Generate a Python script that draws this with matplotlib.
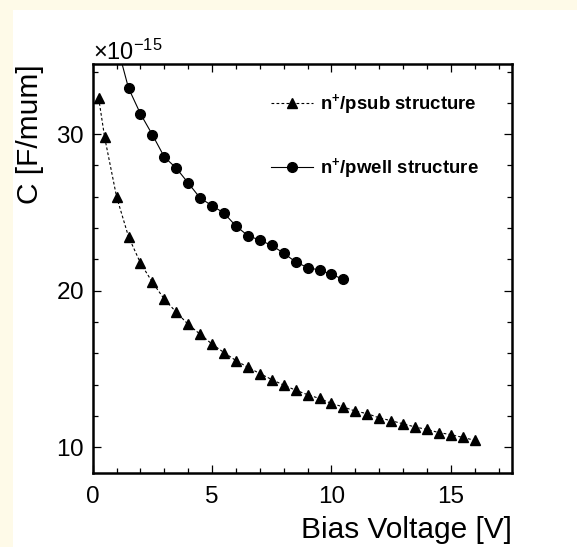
import numpy as np
import matplotlib
matplotlib.use("Agg")
import matplotlib.pyplot as plt
from matplotlib.patches import Rectangle
from matplotlib.ticker import MultipleLocator, ScalarFormatter

plt.rcParams["font.family"] = ["Liberation Sans", "DejaVu Sans"]
plt.rcParams["mathtext.fontset"] = "custom"
plt.rcParams["mathtext.rm"] = "Liberation Sans"
plt.rcParams["mathtext.bf"] = "Liberation Sans:bold"

SCALE = 1e-15

# n+/psub structure (triangles, dashed)
psub_v = [0.25, 0.5, 1, 1.5, 2, 2.5, 3, 3.5, 4, 4.5, 5, 5.5, 6, 6.5, 7, 7.5, 8,
          8.5, 9, 9.5, 10, 10.5, 11, 11.5, 12, 12.5, 13, 13.5, 14, 14.5, 15,
          15.5, 16]
psub_c = [32.3, 29.8, 26.0, 23.45, 21.77, 20.54, 19.46, 18.63, 17.85, 17.22,
          16.59, 16.05, 15.54, 15.11, 14.71, 14.33, 13.97, 13.65, 13.36, 13.12,
          12.80, 12.58, 12.31, 12.15, 11.88, 11.70, 11.50, 11.30, 11.14, 10.94,
          10.81, 10.63, 10.45]

# n+/pwell structure (circles, solid)
pwell_v = [1.5, 2, 2.5, 3, 3.5, 4, 4.5, 5, 5.5, 6, 6.5, 7, 7.5, 8, 8.5, 9,
           9.5, 10, 10.5]
pwell_c = [32.94, 31.30, 29.96, 28.54, 27.83, 26.88, 25.92, 25.43, 24.96,
           24.13, 23.52, 23.23, 22.89, 22.40, 21.84, 21.48, 21.32, 21.05, 20.72]
# fitted curve continues past the first point up to the frame
pwell_fit_v = [1.21] + pwell_v
pwell_fit_c = [34.6] + pwell_c

fig = plt.figure(figsize=(5.77, 5.47), dpi=100)
fig.patch.set_facecolor("#fefae8")
fig.patches.append(Rectangle((13 / 577, 0), 1, 537 / 547, transform=fig.transFigure,
                             facecolor="white", edgecolor="none", zorder=-10))

ax = fig.add_axes([92.7 / 577, 73.7 / 547, 419 / 577, 409 / 547])
ax.set_facecolor("white")

ax.plot(np.array(psub_v), np.array(psub_c) * SCALE, color="black", lw=0.8,
        ls=(0, (2.5, 2)), marker="^", ms=6.8, mec="black", mfc="black",
        label=r"n$^{\mathbf{+}}$/psub structure")
ax.plot(np.array(pwell_fit_v), np.array(pwell_fit_c) * SCALE, color="black",
        lw=0.8, ls="-")
ax.plot(np.array(pwell_v), np.array(pwell_c) * SCALE, color="black", lw=0.8,
        ls="none", marker="o", ms=7, mec="black", mfc="black")
# legend proxy for the solid fit + circles
ax.plot([], [], color="black", lw=0.8, ls="-", marker="o", ms=7,
        label=r"n$^{\mathbf{+}}$/pwell structure")

ax.set_xlim(0, 17.55)
ax.set_ylim(8.34 * SCALE, 34.46 * SCALE)

ax.xaxis.set_major_locator(MultipleLocator(5))
ax.xaxis.set_minor_locator(MultipleLocator(1))
ax.yaxis.set_major_locator(MultipleLocator(10 * SCALE))
ax.yaxis.set_minor_locator(MultipleLocator(2 * SCALE))
fmt = ScalarFormatter(useMathText=True)
fmt.set_powerlimits((-15, -15))
ax.yaxis.set_major_formatter(fmt)
ax.yaxis.get_offset_text().set_fontsize(17)

ax.tick_params(which="both", direction="in", top=True, right=True, width=0.9,
               labelsize=17.5)
ax.tick_params(axis="y", pad=6.5)
ax.tick_params(axis="x", pad=9)
ax.tick_params(which="major", length=6)
ax.tick_params(which="minor", length=3.5)
for sp in ax.spines.values():
    sp.set_linewidth(1.8)

ax.set_xlabel("Bias Voltage [V]", fontsize=21.5, loc="right", labelpad=6)
ax.set_ylabel("C [F/mum]", fontsize=21.5, loc="top", labelpad=8)

ax.legend(loc="upper left", bbox_to_anchor=(0.425, 0.932), frameon=False,
          prop={"weight": "bold", "size": 13.4}, handlelength=2.27,
          handletextpad=0.38, labelspacing=2.1, borderpad=0, borderaxespad=0)

fig.savefig("out.png", dpi=100, facecolor=fig.get_facecolor())
